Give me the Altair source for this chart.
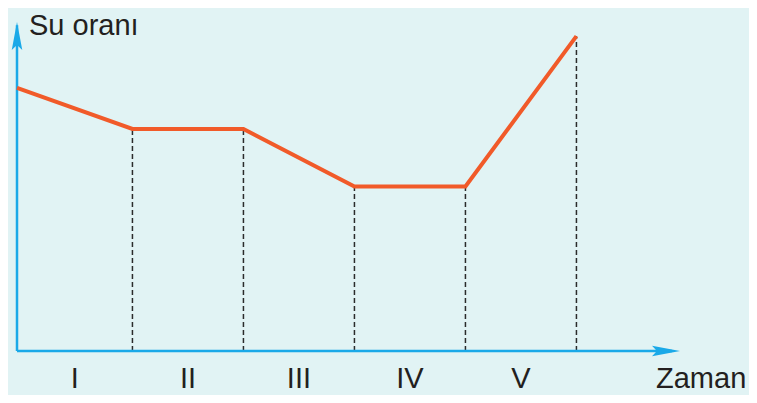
import altair as alt
import pandas as pd

# --- data ---
times = [0, 1.04, 2.04, 3.04, 4.04, 5.04]          # breakpoints on the time axis
water = [8.0, 6.75, 6.75, 5.0, 5.0, 9.57]          # water ratio at each breakpoint
periods = ["I", "II", "III", "IV", "V"]
period_mid = [0.52, 1.54, 2.54, 3.54, 4.54]
y_title = "Su oranı"
x_title = "Zaman"

BG = "#e1f3f4"
AXIS = "#1aa9e8"
LINE = "#f15a29"
TXT = "#231f20"
FONT = "Liberation Sans"
FS = 29

xs = alt.Scale(domain=[0, 6])
ys = alt.Scale(domain=[0, 10])

line_df = pd.DataFrame({"t": times, "w": water})
drop_df = pd.DataFrame({"t": times[1:], "w": water[1:], "base": [0] * 5})
lab_df = pd.DataFrame({"t": period_mid, "lab": periods, "y": [-1.125] * 5})

x_axis = alt.Chart(pd.DataFrame({"x": [0], "x2": [5.9], "y": [0]})).mark_rule(
    color=AXIS, strokeWidth=2.5
).encode(x=alt.X("x:Q", scale=xs, axis=None), x2="x2", y=alt.Y("y:Q", scale=ys, axis=None))

y_axis = alt.Chart(pd.DataFrame({"x": [0], "y": [0], "y2": [9.9]})).mark_rule(
    color=AXIS, strokeWidth=2.5
).encode(x=alt.X("x:Q", scale=xs, axis=None), y=alt.Y("y:Q", scale=ys, axis=None), y2="y2")

up_arrow = alt.Chart(pd.DataFrame({"x": [0], "y": [10]})).mark_point(
    shape="M0,0 L0.375,2 L0,1.65 L-0.375,2 Z", filled=True, opacity=1,
    color=AXIS, size=784, strokeWidth=0
).encode(x=alt.X("x:Q", scale=xs, axis=None), y=alt.Y("y:Q", scale=ys, axis=None))

right_arrow = alt.Chart(pd.DataFrame({"x": [5.973], "y": [0]})).mark_point(
    shape="M0,0 L-2,-0.375 L-1.65,0 L-2,0.375 Z", filled=True, opacity=1,
    color=AXIS, size=784, strokeWidth=0
).encode(x=alt.X("x:Q", scale=xs, axis=None), y=alt.Y("y:Q", scale=ys, axis=None))

drops = alt.Chart(drop_df).mark_rule(
    color="#2b2b2b", strokeWidth=1.5, strokeDash=[5, 3]
).encode(x=alt.X("t:Q", scale=xs, axis=None), y=alt.Y("base:Q", scale=ys, axis=None), y2="w")

curve = alt.Chart(line_df).mark_line(color=LINE, strokeWidth=4).encode(
    x=alt.X("t:Q", scale=xs, axis=None), y=alt.Y("w:Q", scale=ys, axis=None)
)

labels = alt.Chart(lab_df).mark_text(
    font=FONT, fontSize=FS, color=TXT, align="center", baseline="alphabetic"
).encode(x=alt.X("t:Q", scale=xs, axis=None), y=alt.Y("y:Q", scale=ys, axis=None), text="lab:N")

ytitle = alt.Chart(pd.DataFrame({"x": [0.108], "y": [9.605], "s": [y_title]})).mark_text(
    font=FONT, fontSize=FS, color=TXT, align="left", baseline="alphabetic"
).encode(x=alt.X("x:Q", scale=xs, axis=None), y=alt.Y("y:Q", scale=ys, axis=None), text="s:N")

xtitle = alt.Chart(pd.DataFrame({"x": [5.757], "y": [-1.125], "s": [x_title]})).mark_text(
    font=FONT, fontSize=FS, color=TXT, align="left", baseline="alphabetic"
).encode(x=alt.X("x:Q", scale=xs, axis=None), y=alt.Y("y:Q", scale=ys, axis=None), text="s:N")

chart = alt.layer(
    drops, x_axis, y_axis, up_arrow, right_arrow, curve, labels, ytitle, xtitle
).properties(
    width=666, height=329,
    padding={"left": 9, "top": 14, "right": 66, "bottom": 44},
    autosize=alt.AutoSizeParams(type="none"),
    background=BG,
).configure_view(stroke=None)

chart.save("out.html", embed_options={"renderer": "svg", "actions": False})
